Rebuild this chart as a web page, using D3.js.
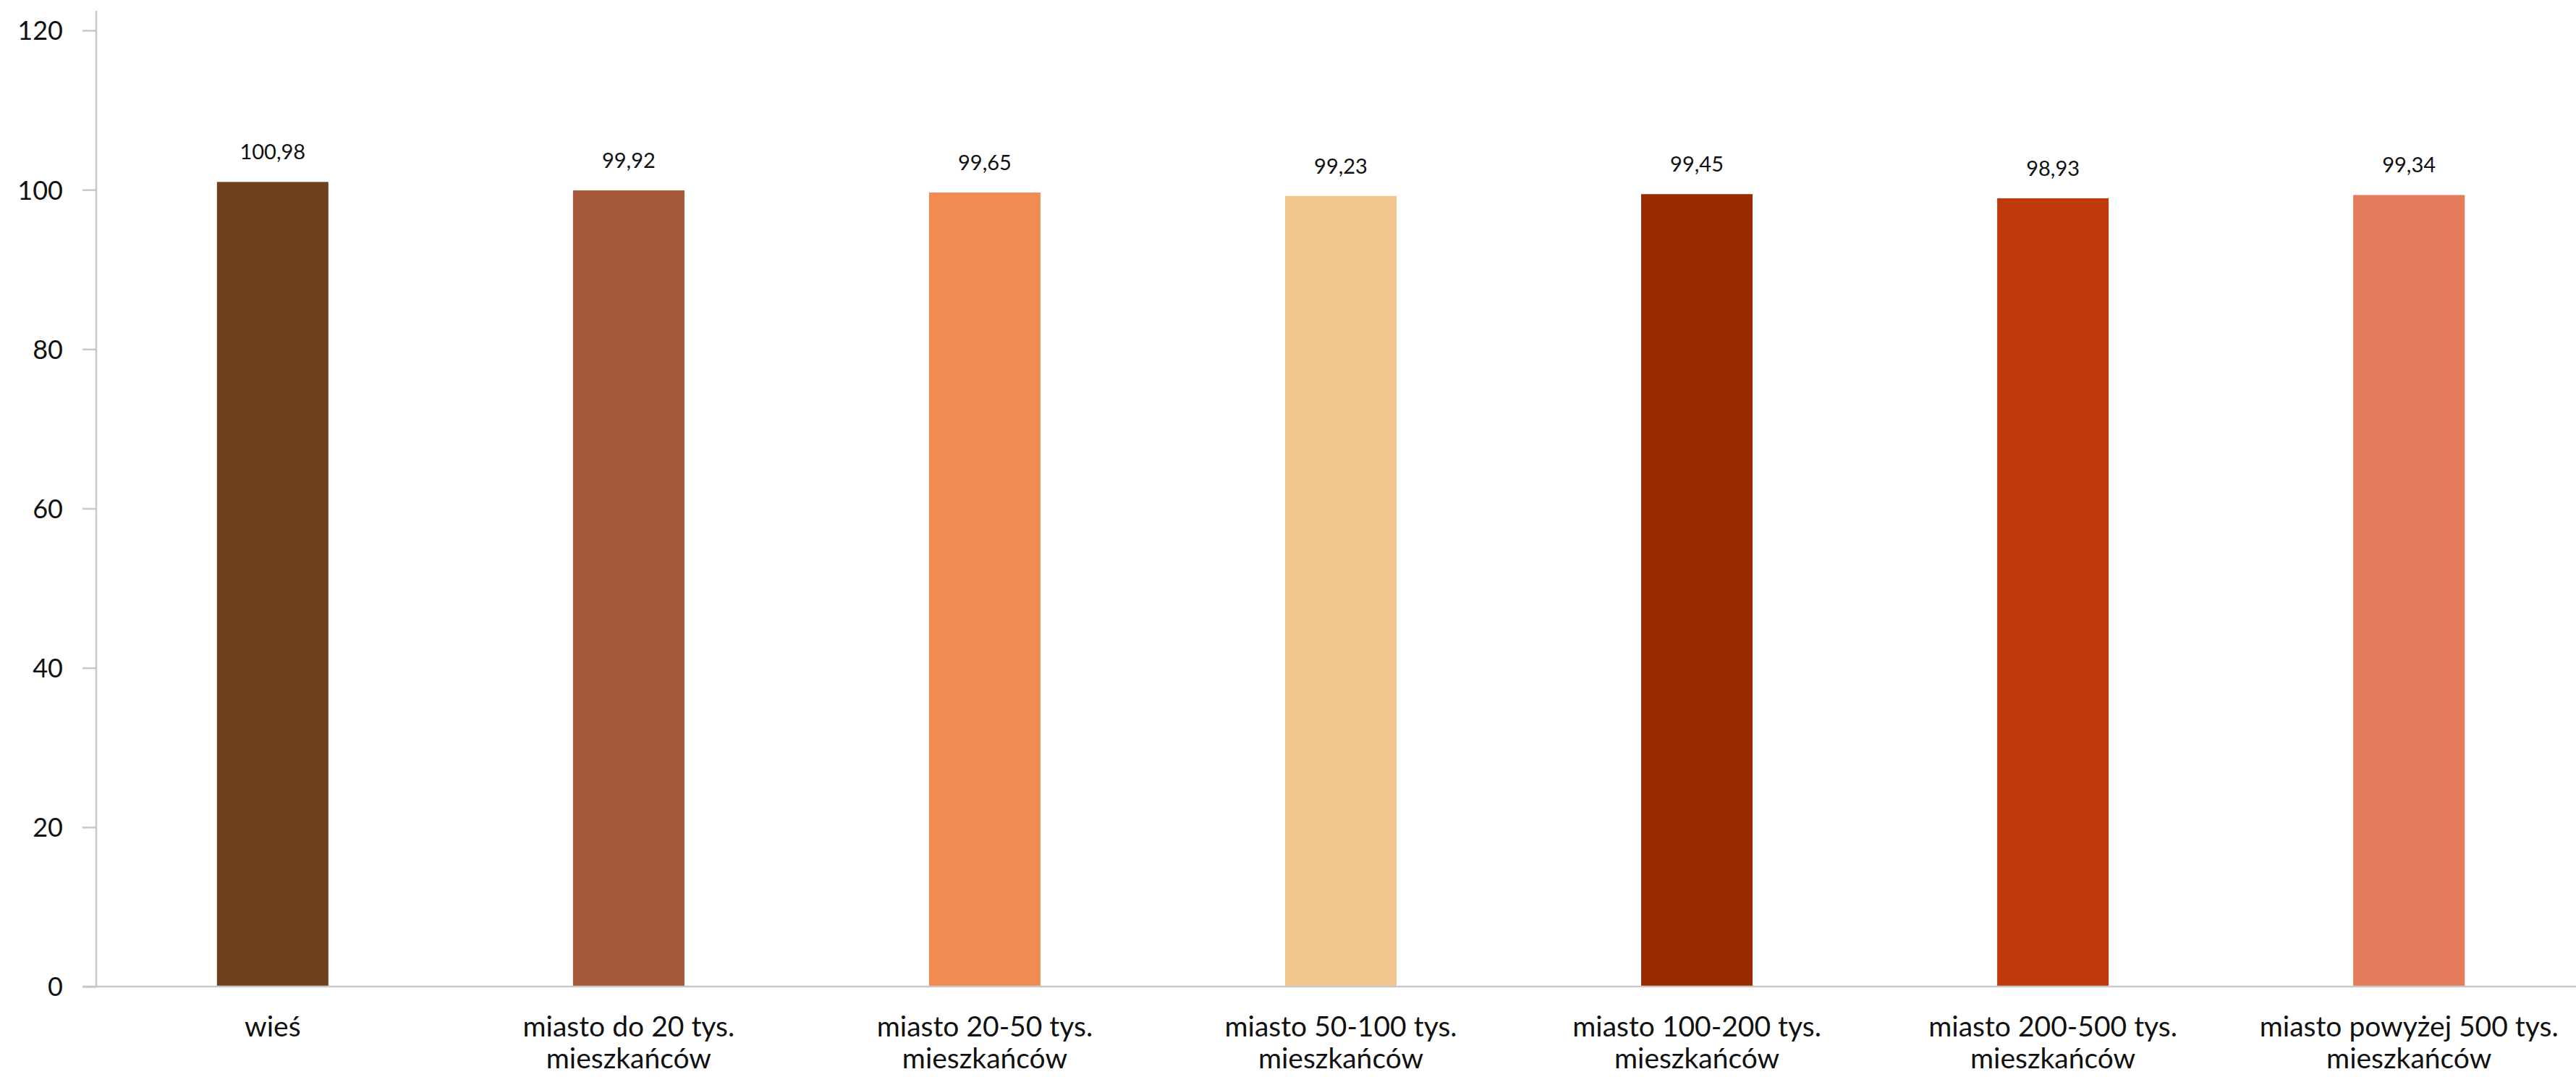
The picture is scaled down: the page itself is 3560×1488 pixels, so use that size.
<!DOCTYPE html>
<html>
<head>
<meta charset="utf-8">
<script src="https://cdn.jsdelivr.net/npm/d3@7"></script>
<style>
  html, body { margin: 0; padding: 0; background: #ffffff; }
  svg { display: block; }
  text { font-family: Lato, "Open Sans", sans-serif; fill: #111; }
</style>
</head>
<body>
<svg id="chart" width="3560" height="1488"></svg>
<script>
const categories = [
  "wieś",
  "miasto do 20 tys. mieszkańców",
  "miasto 20-50 tys. mieszkańców",
  "miasto 50-100 tys. mieszkańców",
  "miasto 100-200 tys. mieszkańców",
  "miasto 200-500 tys. mieszkańców",
  "miasto powyżej 500 tys. mieszkańców"
];
const values = [100.98, 99.92, 99.65, 99.23, 99.45, 98.93, 99.34];
const valueLabels = ["100,98", "99,92", "99,65", "99,23", "99,45", "98,93", "99,34"];
const colors = ["#6F401E", "#A5573A", "#F08B52", "#F2C48E", "#992A00", "#BE3A0A", "#E47B5A"];
const yTicks = [0, 20, 40, 60, 80, 100, 120];

const svg = d3.select("#chart");
const axisX = 133, baseY = 1363, topY = 42;

const y = d3.scaleLinear().domain([0, 120]).range([baseY, topY]);
const x = d3.scaleBand()
  .domain(categories)
  .range([axisX, 3573])
  .paddingInner(0.687)
  .paddingOuter(0.339);

// axes lines
svg.append("line")
  .attr("x1", axisX).attr("x2", axisX)
  .attr("y1", 15).attr("y2", baseY)
  .attr("stroke", "#c8c8c8").attr("stroke-width", 2.5);

const yAxis = d3.axisLeft(y).tickValues(yTicks).tickSize(19).tickPadding(27).tickFormat(d3.format("d"));
const gy = svg.append("g").attr("transform", `translate(${axisX},0)`).call(yAxis);
gy.select(".domain").remove();
gy.selectAll(".tick line").attr("stroke", "#c8c8c8").attr("stroke-width", 2.5);
gy.selectAll(".tick text")
  .attr("font-size", 36)
  .attr("font-family", "Lato, 'Open Sans', sans-serif")
  .attr("fill", "#111")
  .attr("dy", "0.36em");

// bars
svg.append("g").selectAll("rect")
  .data(categories)
  .join("rect")
  .attr("x", d => x(d))
  .attr("width", x.bandwidth())
  .attr("y", (d, i) => y(values[i]))
  .attr("height", (d, i) => y(0) - y(values[i]))
  .attr("fill", (d, i) => colors[i]);

// baseline
svg.append("line")
  .attr("x1", 114).attr("x2", 3560)
  .attr("y1", baseY).attr("y2", baseY)
  .attr("stroke", "#c8c8c8").attr("stroke-width", 2.5);

// value labels
svg.append("g").selectAll("text")
  .data(categories)
  .join("text")
  .attr("x", d => x(d) + x.bandwidth() / 2)
  .attr("y", (d, i) => y(values[i]) - 31)
  .attr("text-anchor", "middle")
  .attr("font-size", 29)
  .text((d, i) => valueLabels[i]);

// category labels
const cg = svg.append("g").selectAll("text")
  .data(categories)
  .join("text")
  .attr("x", d => x(d) + x.bandwidth() / 2)
  .attr("y", 1432)
  .attr("text-anchor", "middle")
  .attr("font-size", 39);
cg.each(function(d) {
  const lines = d.split(/(?<=tys\.) /);
  const t = d3.select(this);
  lines.forEach((ln, k) => {
    t.append("tspan")
      .attr("x", x(d) + x.bandwidth() / 2)
      .attr("dy", k === 0 ? 0 : 44)
      .text(ln);
  });
});
</script>
</body>
</html>
